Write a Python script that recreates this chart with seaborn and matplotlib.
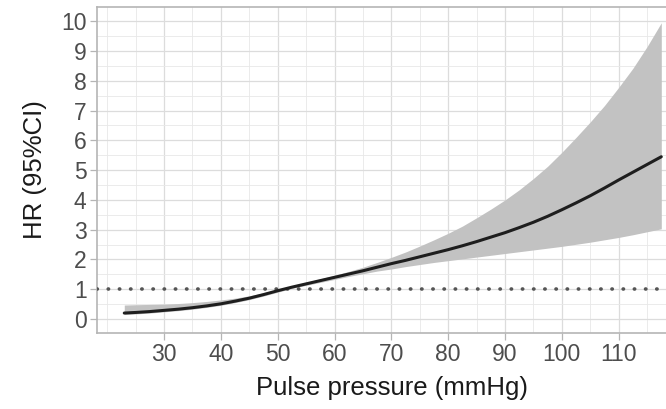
import numpy as np
import pandas as pd
import matplotlib
matplotlib.use("Agg")
import matplotlib.pyplot as plt
import seaborn as sns
from matplotlib.ticker import MultipleLocator

# Data
pulse_pressure = [23, 25, 27.5, 30, 32.5, 35, 37.5, 40, 42.5, 45, 47.5, 50, 52.5, 55, 57.5,
                  60, 62.5, 65, 67.5, 70, 72.5, 75, 77.5, 80, 82.5, 85, 87.5, 90, 92.5,
                  95, 97.5, 100, 102.5, 105, 107.5, 110, 112.5, 115, 117.5]
hr = [0.20, 0.22, 0.25, 0.29, 0.33, 0.38, 0.44, 0.51, 0.60, 0.70, 0.82, 0.95, 1.07, 1.18, 1.29,
      1.40, 1.51, 1.62, 1.74, 1.86, 1.97, 2.09, 2.21, 2.33, 2.46, 2.60, 2.75, 2.90, 3.07,
      3.25, 3.45, 3.67, 3.90, 4.14, 4.40, 4.67, 4.93, 5.19, 5.45]
hr_upper = [0.47, 0.48, 0.49, 0.50, 0.52, 0.55, 0.59, 0.64, 0.70, 0.78, 0.88, 1.00, 1.11, 1.23, 1.35,
            1.47, 1.60, 1.74, 1.90, 2.07, 2.25, 2.45, 2.66, 2.88, 3.12, 3.40, 3.69, 4.00, 4.34,
            4.72, 5.13, 5.60, 6.10, 6.62, 7.17, 7.78, 8.42, 9.15, 9.95]
hr_lower = [0.15, 0.17, 0.20, 0.24, 0.28, 0.33, 0.39, 0.46, 0.55, 0.65, 0.77, 0.90, 1.03, 1.13, 1.23,
            1.33, 1.43, 1.52, 1.61, 1.68, 1.76, 1.83, 1.90, 1.96, 2.02, 2.08, 2.14, 2.20, 2.26,
            2.32, 2.38, 2.44, 2.51, 2.58, 2.66, 2.74, 2.83, 2.93, 3.03]
x_ticks = [30, 40, 50, 60, 70, 80, 90, 100, 110]
y_ticks = [0, 1, 2, 3, 4, 5, 6, 7, 8, 9, 10]
reference_hr = 1

df = pd.DataFrame({"pp": pulse_pressure, "hr": hr, "lo": hr_lower, "hi": hr_upper})

sns.set_theme(style="white")
plt.rcParams["font.family"] = ["Liberation Sans", "DejaVu Sans"]

fig = plt.figure(figsize=(6.66, 4.09), dpi=100)
# panel extends slightly past the right edge of the image (as in the reference)
ax = fig.add_axes([97 / 666, 1 - 333 / 409, (688 - 97) / 666, (333 - 7) / 409])

ax.fill_between(df["pp"], df["lo"], df["hi"], color="#c2c2c2", lw=0, zorder=2)
sns.lineplot(data=df, x="pp", y="hr", ax=ax, color="#1e1e1e", lw=2.2, zorder=4)
ax.axhline(reference_hr, color="#555555", lw=2.6, linestyle=(0, (0.1, 3.0)),
           dash_capstyle="round", zorder=3)

ax.set_xlim(18.2, 122.2)
ax.set_ylim(-0.47, 10.48)
ax.set_xticks(x_ticks)
ax.set_yticks(y_ticks)
ax.xaxis.set_minor_locator(MultipleLocator(5))
ax.yaxis.set_minor_locator(MultipleLocator(0.5))
ax.grid(which="major", color="#dcdcdc", lw=0.9, zorder=0)
ax.grid(which="minor", color="#e8e8e8", lw=0.6, zorder=0)
ax.set_axisbelow(True)

for s in ax.spines.values():
    s.set_color("#b5b5b5")
    s.set_linewidth(1.2)

ax.tick_params(axis="both", which="major", length=5, width=0.9, color="#b5b5b5",
               labelsize=16.5, labelcolor="#4d4d4d", pad=2.5, bottom=True, left=True)
ax.tick_params(axis="both", which="minor", length=0)

ax.set_xlabel("Pulse pressure (mmHg)", fontsize=18.5, color="#1a1a1a", labelpad=7)
ax.set_ylabel("HR (95%CI)", fontsize=18.5, color="#1a1a1a", labelpad=10)

fig.savefig("out.png", dpi=100)
